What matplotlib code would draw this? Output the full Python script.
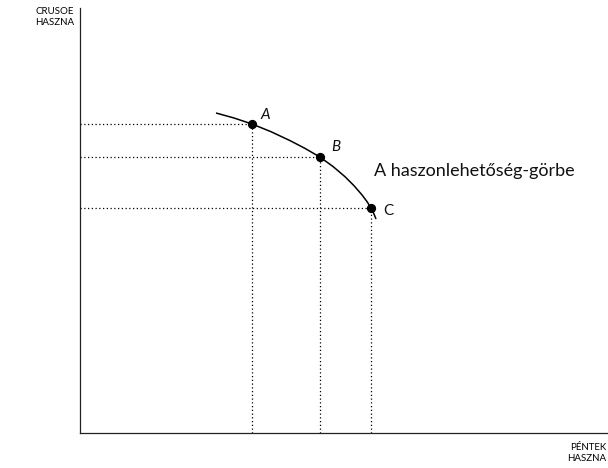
import matplotlib.pyplot as plt

# Coordinates are in "chart units" (origin at the axes corner)
point_labels = ['A', 'B', 'C']
point_x = [172, 240, 291]
point_y = [309, 276, 225]

# points
curve_x = [136, 154, 172, 191, 210, 225, 240, 253, 265, 274, 282, 287, 291, 294, 296]
curve_y = [320, 315, 309, 301.3, 292.4, 284.6, 275.9, 266.5, 256.3, 247.3, 238.1,
           231.4, 225, 219, 214]

label_dx = [13, 16, 17]
label_dy = [9, 10, -3]
label_style = ['italic', 'italic', 'normal']

FONT = 'Lato'

fig = plt.figure(figsize=(6.08, 4.68), dpi=100)
ax = fig.add_axes([80 / 608, (468 - 433) / 468, 527 / 608, 425 / 468])
ax.set_xlim(0, 527)
ax.set_ylim(0, 425)

for side in ['top', 'right']:
    ax.spines[side].set_visible(False)
for side in ['left', 'bottom']:
    ax.spines[side].set_linewidth(0.9)
    ax.spines[side].set_color('#222222')
ax.set_xticks([])
ax.set_yticks([])

# guide lines
for x, y in zip(point_x, point_y):
    ax.plot([0, x], [y, y], linestyle=(0, (1, 2)), color='black', linewidth=0.9)
    ax.plot([x, x], [0, y], linestyle=(0, (1, 2)), color='black', linewidth=0.9)

ax.plot(curve_x, curve_y, color='black', linewidth=1.1, solid_capstyle='butt',
        solid_joinstyle='round')
ax.scatter(point_x, point_y, s=32, color='black', zorder=3)

for lab, x, y, dx, dy, st in zip(point_labels, point_x, point_y, label_dx, label_dy, label_style):
    ax.text(x + dx, y + dy, lab, fontsize=11, fontstyle=st, family=FONT,
            ha='center', va='center', color='#111111')

ax.text(294, 262, 'A haszonlehetőség-görbe', fontsize=13, family=FONT,
        ha='left', va='center', color='#111111')

fig.text(74 / 608, 1 - 17 / 468, 'CRUSOE\nHASZNA', fontsize=7, family=FONT,
         ha='right', va='center', linespacing=1.2)
fig.text(606 / 608, 1 - 453 / 468, 'PÉNTEK\nHASZNA', fontsize=7, family=FONT,
         ha='right', va='center', linespacing=1.2)

fig.savefig('out.png', dpi=100)
